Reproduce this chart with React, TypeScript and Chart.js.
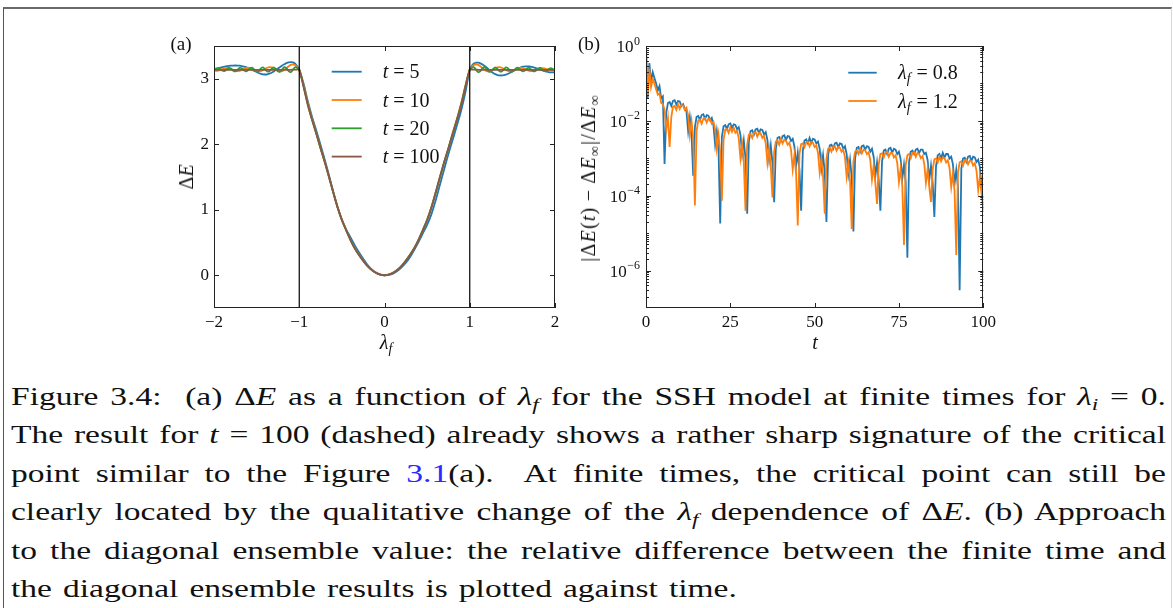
import React, { useEffect, useRef } from 'react';
import { Chart, registerables } from 'chart.js';
Chart.register(...registerables);

const SERIF = '"Liberation Serif", "Times New Roman", serif';

// ---------- Panel (a): Delta E vs lambda_f ----------
const lambdaGrid = [
  -2, -1.975, -1.95, -1.925, -1.9, -1.875, -1.85, -1.825, -1.8, -1.775, -1.75, -1.725, -1.7, -1.675, -1.65, -1.625, -1.6, -1.575, -1.55, -1.525,
  -1.5, -1.475, -1.45, -1.425, -1.4, -1.375, -1.35, -1.325, -1.3, -1.275, -1.25, -1.225, -1.2, -1.175, -1.15, -1.125, -1.1, -1.075, -1.05, -1.025,
  -1, -0.95, -0.9, -0.85, -0.8, -0.75, -0.7, -0.65, -0.6, -0.55, -0.5, -0.45, -0.4, -0.35, -0.3, -0.25, -0.2, -0.15, -0.1, -0.05,
  0, 0.05, 0.1, 0.15, 0.2, 0.25, 0.3, 0.35, 0.4, 0.45, 0.5, 0.55, 0.6, 0.65, 0.7, 0.75, 0.8, 0.85, 0.9, 0.95, 1,
  1.025, 1.05, 1.075, 1.1, 1.125, 1.15, 1.175, 1.2, 1.225, 1.25, 1.275, 1.3, 1.325, 1.35, 1.375, 1.4, 1.425, 1.45, 1.475, 1.5,
  1.525, 1.55, 1.575, 1.6, 1.625, 1.65, 1.675, 1.7, 1.725, 1.75, 1.775, 1.8, 1.825, 1.85, 1.875, 1.9, 1.925, 1.95, 1.975, 2,
];

const dE_t5 = [
  3.150, 3.155, 3.162, 3.170, 3.178, 3.185, 3.191, 3.196, 3.199, 3.201, 3.202, 3.201, 3.199, 3.194, 3.186, 3.176, 3.164, 3.150, 3.135, 3.119,
  3.103, 3.088, 3.076, 3.068, 3.065, 3.068, 3.077, 3.091, 3.110, 3.132, 3.156, 3.180, 3.203, 3.222, 3.238, 3.249, 3.254, 3.250, 3.232, 3.195,
  3.14, 2.93, 2.66, 2.42, 2.21, 1.99, 1.76, 1.52, 1.27, 1.04, 0.85, 0.70, 0.58, 0.46, 0.35, 0.25, 0.16, 0.09, 0.04, 0.01,
  0.0, 0.005, 0.025, 0.065, 0.12, 0.19, 0.28, 0.39, 0.51, 0.64, 0.77, 0.93, 1.14, 1.38, 1.62, 1.85, 2.07, 2.29, 2.52, 2.80, 3.14,
  3.200, 3.232, 3.246, 3.245, 3.235, 3.217, 3.194, 3.167, 3.139, 3.112, 3.089, 3.070, 3.057, 3.051, 3.050, 3.054, 3.063, 3.076, 3.092, 3.110,
  3.128, 3.146, 3.162, 3.175, 3.184, 3.189, 3.190, 3.188, 3.182, 3.173, 3.162, 3.150, 3.138, 3.126, 3.116, 3.108, 3.102, 3.098, 3.096, 3.096,
];

const dE_t10 = [
  3.124, 3.121, 3.125, 3.136, 3.149, 3.160, 3.163, 3.158, 3.146, 3.132, 3.120, 3.117, 3.122, 3.135, 3.150, 3.164, 3.168, 3.162, 3.148, 3.130,
  3.116, 3.112, 3.118, 3.133, 3.152, 3.168, 3.176, 3.172, 3.158, 3.138, 3.120, 3.112, 3.117, 3.135, 3.162, 3.190, 3.212, 3.220, 3.210, 3.185,
  3.14, 2.9, 2.63, 2.39, 2.17, 1.94, 1.72, 1.49, 1.26, 1.04, 0.85, 0.69, 0.545, 0.42, 0.315, 0.225, 0.145, 0.085, 0.04, 0.012,
  0, 0.012, 0.04, 0.085, 0.145, 0.225, 0.315, 0.42, 0.545, 0.69, 0.85, 1.04, 1.26, 1.49, 1.72, 1.94, 2.17, 2.39, 2.63, 2.9, 3.14,
  3.185, 3.210, 3.220, 3.212, 3.190, 3.162, 3.135, 3.117, 3.112, 3.120, 3.138, 3.158, 3.172, 3.176, 3.168, 3.152, 3.133, 3.118, 3.112, 3.116,
  3.130, 3.148, 3.162, 3.168, 3.164, 3.150, 3.135, 3.122, 3.117, 3.120, 3.132, 3.146, 3.158, 3.163, 3.160, 3.149, 3.136, 3.125, 3.121, 3.124,
];

const dE_t20 = [
  3.124, 3.149, 3.163, 3.148, 3.122, 3.119, 3.143, 3.165, 3.155, 3.124, 3.113, 3.137, 3.165, 3.161, 3.130, 3.112, 3.130, 3.162, 3.167, 3.136,
  3.110, 3.122, 3.158, 3.172, 3.144, 3.110, 3.115, 3.152, 3.175, 3.152, 3.113, 3.108, 3.145, 3.177, 3.161, 3.118, 3.101, 3.135, 3.175, 3.170,
  3.14, 2.89, 2.615, 2.38, 2.165, 1.94, 1.725, 1.495, 1.26, 1.035, 0.845, 0.69, 0.542, 0.415, 0.312, 0.222, 0.142, 0.082, 0.037, 0.011,
  0, 0.011, 0.037, 0.082, 0.142, 0.222, 0.312, 0.415, 0.542, 0.69, 0.845, 1.035, 1.26, 1.495, 1.725, 1.94, 2.165, 2.38, 2.615, 2.89, 3.14,
  3.170, 3.175, 3.135, 3.101, 3.118, 3.161, 3.177, 3.145, 3.108, 3.113, 3.152, 3.175, 3.152, 3.115, 3.110, 3.144, 3.172, 3.158, 3.122, 3.110,
  3.136, 3.167, 3.162, 3.130, 3.112, 3.130, 3.161, 3.165, 3.137, 3.113, 3.124, 3.155, 3.165, 3.143, 3.119, 3.122, 3.148, 3.163, 3.149, 3.124,
];

const dE_t100 = [
  3.136, 3.135, 3.134, 3.135, 3.136, 3.135, 3.134, 3.135, 3.136, 3.135, 3.134, 3.135, 3.136, 3.135, 3.134, 3.135, 3.136, 3.135, 3.134, 3.135,
  3.136, 3.135, 3.134, 3.135, 3.136, 3.135, 3.134, 3.136, 3.137, 3.136, 3.135, 3.134, 3.136, 3.138, 3.137, 3.136, 3.137, 3.139, 3.140, 3.141,
  3.14, 2.88, 2.6, 2.37, 2.16, 1.94, 1.73, 1.5, 1.26, 1.03, 0.84, 0.69, 0.54, 0.41, 0.31, 0.22, 0.14, 0.08, 0.035, 0.01,
  0, 0.01, 0.035, 0.08, 0.14, 0.22, 0.31, 0.41, 0.54, 0.69, 0.84, 1.03, 1.26, 1.5, 1.73, 1.94, 2.16, 2.37, 2.6, 2.88, 3.14,
  3.141, 3.140, 3.139, 3.137, 3.136, 3.137, 3.138, 3.136, 3.134, 3.135, 3.136, 3.137, 3.136, 3.135, 3.134, 3.135, 3.136, 3.135, 3.134, 3.135,
  3.136, 3.135, 3.134, 3.135, 3.136, 3.135, 3.134, 3.135, 3.136, 3.135, 3.134, 3.135, 3.136, 3.135, 3.134, 3.135, 3.136, 3.135, 3.134, 3.135,
];

const seriesA = [dE_t5, dE_t10, dE_t20, dE_t100];
const timesA = ['5', '10', '20', '100'];
const colorsA = ['#1f77b4', '#ff7f0e', '#2ca02c', '#8c564b'];
const criticalLines = [-1, 1];
const xTicksA = [-2, -1, 0, 1, 2];
const yTicksA = [0, 1, 2, 3];

// ---------- Panel (b): relative difference vs t ----------
const tGrid = [
  0, 0.5, 1, 1.5, 2, 2.5, 3, 3.5, 4, 4.5, 5, 5.5, 6, 6.5, 7, 7.5, 8, 8.5, 9, 9.5,
  10, 10.5, 11, 11.5, 12, 12.5, 13, 13.5, 14, 14.5, 15, 15.5, 16, 16.5, 17, 17.5, 18, 18.5, 19, 19.5,
  20, 20.5, 21, 21.5, 22, 22.5, 23, 23.5, 24, 24.5, 25, 25.5, 26, 26.5, 27, 27.5, 28, 28.5, 29, 29.5,
  30, 30.5, 31, 31.5, 32, 32.5, 33, 33.5, 34, 34.5, 35, 35.5, 36, 36.5, 37, 37.5, 38, 38.5, 39, 39.5,
  40, 40.5, 41, 41.5, 42, 42.5, 43, 43.5, 44, 44.5, 45, 45.5, 46, 46.5, 47, 47.5, 48, 48.5, 49, 49.5,
  50, 50.5, 51, 51.5, 52, 52.5, 53, 53.5, 54, 54.5, 55, 55.5, 56, 56.5, 57, 57.5, 58, 58.5, 59, 59.5,
  60, 60.5, 61, 61.5, 62, 62.5, 63, 63.5, 64, 64.5, 65, 65.5, 66, 66.5, 67, 67.5, 68, 68.5, 69, 69.5,
  70, 70.5, 71, 71.5, 72, 72.5, 73, 73.5, 74, 74.5, 75, 75.5, 76, 76.5, 77, 77.5, 78, 78.5, 79, 79.5,
  80, 80.5, 81, 81.5, 82, 82.5, 83, 83.5, 84, 84.5, 85, 85.5, 86, 86.5, 87, 87.5, 88, 88.5, 89, 89.5,
  90, 90.5, 91, 91.5, 92, 92.5, 93, 93.5, 94, 94.5, 95, 95.5, 96, 96.5, 97, 97.5, 98, 98.5, 99, 99.5,
  100,
];

const relDiff_08 = [
  0.9, 0.04, 0.35, 0.11, 0.2, 0.14, 0.1, 0.065, 0.085, 0.04, 0.045, 7e-4,
  0.016, 0.030, 0.032, 0.025, 0.034, 0.0355, 0.027, 0.034, 0.033, 0.025, 0.028, 0.021, 0.018, 5.3e-3, 0.0124, 4.3e-3, 3.4e-4,
  6.8e-3, 0.0128, 0.0135, 0.0105, 0.0143, 0.015, 0.0113, 0.0143, 0.0138, 0.0105, 0.012, 7.5e-3, 2.3e-3, 5.3e-3, 1.8e-3, 1.8e-5,
  3.8e-3, 7.2e-3, 7.7e-3, 6e-3, 8.1e-3, 8.5e-3, 6.4e-3, 8.1e-3, 7.8e-3, 6e-3, 6.8e-3, 4.3e-3, 1.3e-3, 3e-3, 1e-3, 3.3e-5,
  2.8e-3, 5.3e-3, 5.6e-3, 4.3e-3, 5.9e-3, 6.2e-3, 4.7e-3, 5.9e-3, 5.7e-3, 4.3e-3, 5e-3, 3.1e-3, 9.3e-4, 2.2e-3, 7.4e-4, 6.7e-5,
  1.8e-3, 3.5e-3, 3.7e-3, 2.9e-3, 3.9e-3, 4.1e-3, 3.1e-3, 3.9e-3, 3.8e-3, 2.9e-3, 3.3e-3, 2.1e-3, 6.2e-4, 1.4e-3, 4.9e-4, 4e-5,
  1.6e-3, 3e-3, 3.2e-3, 2.5e-3, 3.5e-3, 2.6e-3, 3.3e-3, 3.2e-3, 2.5e-3, 2.8e-3, 1.8e-3, 5.3e-4, 1.2e-3, 4.2e-4, 2e-5,
  1.2e-3, 2.2e-3, 2.3e-3, 1.8e-3, 2.5e-3, 2.6e-3, 2e-3, 2.5e-3, 2.4e-3, 1.8e-3, 2.1e-3, 1.3e-3, 3.9e-4, 9.1e-4, 3.1e-4, 1.1e-5,
  9.9e-4, 1.9e-3, 2e-3, 1.5e-3, 2.1e-3, 2.2e-3, 1.7e-3, 2.1e-3, 2e-3, 1.5e-3, 1.8e-3, 1.1e-3, 3.3e-4, 7.7e-4, 2.6e-4, 4e-5,
  8.6e-4, 1.6e-3, 1.7e-3, 1.3e-3, 1.8e-3, 1.9e-3, 1.4e-3, 1.8e-3, 1.7e-3, 1.3e-3, 1.5e-3, 9.5e-4, 2.9e-4, 6.7e-4, 2.3e-4, 2.2e-6,
  8.1e-4, 1.5e-3, 1.6e-3, 1.3e-3, 1.7e-3, 1.8e-3, 1.4e-3, 1.7e-3, 1.7e-3, 1.3e-3, 1.4e-3, 9e-4, 2.7e-4, 6.3e-4, 2.2e-4, 2.7e-5,
  6.3e-4, 1.2e-3, 1.3e-3, 9.8e-4, 1.4e-3, 1.05e-3, 1.3e-3, 1.3e-3, 9.8e-4, 1.1e-3, 7e-4, 2.1e-4, 4.9e-4, 1.7e-4, 3e-7,
  5.2e-4, 9.8e-4, 1.03e-3, 8e-4, 1.1e-3, 1.15e-3, 8.6e-4, 1.1e-3, 1.06e-3, 8e-4, 9.2e-4, 5.8e-4, 1.7e-4, 4e-5,
];

const relDiff_12 = [
  0.7, 0.05, 0.25, 0.08, 0.13, 0.1, 0.07, 0.05, 0.055, 0.03, 0.028, 0.02, 0.006, 0.012, 2e-3,
  0.0126, 0.024, 0.025, 0.0196, 0.028, 0.021, 0.0266, 0.0258, 0.0196, 0.0224, 0.014, 4.2e-3, 9.8e-3, 3.4e-3, 5.5e-5,
  5.4e-3, 0.0102, 0.0108, 8.4e-3, 0.0114, 0.012, 9e-3, 0.0114, 0.011, 8.4e-3, 9.6e-3, 6e-3, 1.8e-3, 4.2e-3, 1.4e-3, 7.4e-5,
  3.1e-3, 5.8e-3, 6.1e-3, 4.8e-3, 6.8e-3, 5.1e-3, 6.5e-3, 4.8e-3, 5.4e-3, 3.4e-3, 1e-3, 2.4e-3, 8.2e-4, 4e-5,
  2.3e-3, 4.3e-3, 4.5e-3, 3.5e-3, 4.8e-3, 5e-3, 3.8e-3, 4.8e-3, 4.6e-3, 3.5e-3, 4e-3, 2.5e-3, 7.5e-4, 1.8e-3, 6e-4, 9e-5,
  1.5e-3, 2.8e-3, 3e-3, 2.3e-3, 3.3e-3, 2.5e-3, 3.1e-3, 3e-3, 2.3e-3, 2.6e-3, 1.7e-3, 5e-4, 1.2e-3, 4e-4, 1.6e-5,
  1.3e-3, 2.4e-3, 2.5e-3, 2e-3, 2.7e-3, 2.8e-3, 2.1e-3, 2.7e-3, 2.6e-3, 2e-3, 2.2e-3, 1.4e-3, 4.2e-4, 9.8e-4, 3.4e-4, 3.3e-5,
  9.5e-4, 1.8e-3, 1.9e-3, 1.5e-3, 2e-3, 2.1e-3, 1.6e-3, 2e-3, 1.9e-3, 1.5e-3, 1.7e-3, 1.05e-3, 3.2e-4, 7.4e-4, 2.5e-4, 1.3e-5,
  8.1e-4, 1.5e-3, 1.6e-3, 1.3e-3, 1.8e-3, 1.35e-3, 1.7e-3, 1.65e-3, 1.3e-3, 1.45e-3, 9e-4, 2.7e-4, 6.3e-4, 2.2e-4, 6e-5,
  6.8e-4, 1.3e-3, 1.35e-3, 1.05e-3, 1.4e-3, 1.5e-3, 1.1e-3, 1.4e-3, 1.4e-3, 1.05e-3, 1.2e-3, 7.5e-4, 2.3e-4, 5.3e-4, 1.8e-4, 4.8e-6,
  6.5e-4, 1.2e-3, 1.3e-3, 1e-3, 1.4e-3, 1.45e-3, 1.1e-3, 1.4e-3, 1.3e-3, 1e-3, 1.15e-3, 7.3e-4, 2.2e-4, 5.1e-4, 1.7e-4, 6.8e-5,
  5e-4, 9.4e-4, 9.9e-4, 7.7e-4, 1.1e-3, 8.3e-4, 1.05e-3, 1e-3, 7.7e-4, 8.8e-4, 5.5e-4, 1.7e-4, 3.9e-4, 1.3e-4, 2.6e-6,
  4.1e-4, 7.8e-4, 8.3e-4, 6.4e-4, 8.7e-4, 9.2e-4, 6.9e-4, 8.7e-4, 8.5e-4, 6.4e-4, 7.4e-4, 4.6e-4, 1.4e-4, 3.2e-4, 1.1e-4, 1e-4,
];

const seriesB = [relDiff_08, relDiff_12];
const lambdaFinal = ['0.8', '1.2'];
const colorsB = ['#1f77b4', '#ff7f0e'];
const xTicksB = [0, 25, 50, 75, 100];
const yTicksB = [1e-6, 1e-4, 1e-2, 1];

// ---------- helpers ----------
const fmtMinus = (v: number) => (v < 0 ? '\u2212' + Math.abs(v) : String(v));

function logMinorTicks(minExp: number, maxExp: number, majors: number[]) {
  const out: number[] = [];
  for (let e = minExp; e < maxExp; e++) {
    for (let s = 1; s <= 9; s++) {
      const v = s * Math.pow(10, e);
      if (s === 1 && majors.some((m) => Math.abs(Math.log10(m) - e) < 1e-9)) continue;
      out.push(v);
    }
  }
  return out;
}

type Part = { t: string; s: 'i' | 'r' | 'sub' };

const decoPlugin = {
  id: 'deco',
  afterDatasetsDraw(chart: any, _a: any, o: any) {
    const { ctx, chartArea: ca, scales } = chart;
    if (o.vLines) {
      ctx.save();
      ctx.strokeStyle = '#000';
      ctx.lineWidth = 1.2;
      ctx.beginPath();
      for (const v of o.vLines) {
        const px = scales.x.getPixelForValue(v);
        ctx.moveTo(px, ca.top);
        ctx.lineTo(px, ca.bottom);
      }
      ctx.stroke();
      ctx.restore();
    }
  },
  afterDraw(chart: any, _a: any, o: any) {
    const { ctx, chartArea: ca, scales } = chart;
    const xs = scales.x;
    const ys = scales.y;
    ctx.save();
    ctx.strokeStyle = '#222';
    ctx.lineWidth = 1;
    const M = 5;
    const m = 3;
    ctx.beginPath();
    for (const v of o.xTicks) {
      const p = Math.round(xs.getPixelForValue(v)) + 0.5;
      ctx.moveTo(p, ca.bottom);
      ctx.lineTo(p, ca.bottom - M);
      ctx.moveTo(p, ca.top);
      ctx.lineTo(p, ca.top + M);
    }
    for (const v of o.yTicks) {
      const p = Math.round(ys.getPixelForValue(v)) + 0.5;
      ctx.moveTo(ca.left, p);
      ctx.lineTo(ca.left + M, p);
      ctx.moveTo(ca.right, p);
      ctx.lineTo(ca.right - M, p);
    }
    for (const v of o.yMinor || []) {
      const p = Math.round(ys.getPixelForValue(v)) + 0.5;
      if (p < ca.top || p > ca.bottom) continue;
      ctx.moveTo(ca.left, p);
      ctx.lineTo(ca.left + m, p);
      ctx.moveTo(ca.right, p);
      ctx.lineTo(ca.right - m, p);
    }
    ctx.stroke();
    ctx.strokeStyle = '#222';
    ctx.lineWidth = 1;
    ctx.strokeRect(
      Math.round(ca.left) + 0.5,
      Math.round(ca.top) + 0.5,
      Math.round(ca.right - ca.left) - 1,
      Math.round(ca.bottom - ca.top) - 1
    );

    ctx.fillStyle = '#111';
    ctx.textBaseline = 'alphabetic';
    ctx.textAlign = 'left';
    if (o.logLabels) {
      for (const v of o.yTicks) {
        const p = ys.getPixelForValue(v);
        const e = Math.round(Math.log10(v));
        const es = e < 0 ? '\u2212' + -e : String(e);
        ctx.font = `12px ${SERIF}`;
        const ew = ctx.measureText(es).width;
        ctx.font = `17px ${SERIF}`;
        const bw = ctx.measureText('10').width;
        const xr = ca.left - 6;
        ctx.fillText('10', xr - ew - bw - 0.5, p + 6);
        ctx.font = `12px ${SERIF}`;
        ctx.fillText(es, xr - ew, p - 1.5);
      }
    }

    // legend
    const lg = o.legend;
    if (lg) {
      chart.data.datasets.forEach((ds: any, i: number) => {
        const y = ca.top + lg.y0 + i * lg.dy;
        ctx.strokeStyle = ds.borderColor;
        ctx.lineWidth = 1.8;
        ctx.beginPath();
        ctx.moveTo(ca.left + lg.x0, y);
        ctx.lineTo(ca.left + lg.x0 + lg.len, y);
        ctx.stroke();
        let x = ca.left + lg.tx;
        const parts: Part[] = lg.parts(i);
        for (const pt of parts) {
          let dy = 6.5;
          if (pt.s === 'i') ctx.font = `italic 20px ${SERIF}`;
          else if (pt.s === 'sub') {
            ctx.font = `italic 14px ${SERIF}`;
            dy = 10.5;
          } else ctx.font = `20px ${SERIF}`;
          ctx.fillStyle = '#111';
          ctx.fillText(pt.t, x, y + dy);
          x += ctx.measureText(pt.t).width + (pt.s === 'sub' ? 1 : 0);
        }
      });
    }
    ctx.restore();
  },
};

const tickFont = { family: SERIF, size: 17 };

function makeConfigA(): any {
  return {
    type: 'line',
    data: {
      datasets: seriesA.map((arr, i) => ({
        label: 't = ' + timesA[i],
        data: lambdaGrid.map((x, j) => ({ x, y: arr[j] })),
        borderColor: colorsA[i],
        backgroundColor: colorsA[i],
        borderWidth: 1.8,
        pointRadius: 0,
        tension: 0.3,
        fill: false,
        order: 4 - i,
      })),
    },
    options: {
      responsive: false,
      animation: false,
      devicePixelRatio: 1,
      layout: { padding: { left: 0, right: 15, top: 16, bottom: 0 } },
      plugins: {
        legend: { display: false },
        tooltip: { enabled: false },
        deco: {
          xTicks: xTicksA,
          yTicks: yTicksA,
          vLines: criticalLines,
          legend: {
            x0: 117.7,
            len: 30,
            tx: 168.7,
            y0: 25.7,
            dy: 28.3,
            parts: (i: number): Part[] => [
              { t: 't', s: 'i' },
              { t: ' = ' + timesA[i], s: 'r' },
            ],
          },
        },
      },
      scales: {
        x: {
          type: 'linear',
          min: -2,
          max: 2,
          afterBuildTicks: (s: any) => {
            s.ticks = xTicksA.map((v) => ({ value: v }));
          },
          afterFit: (s: any) => {
            s.height = 52;
          },
          grid: { display: false, drawTicks: false },
          border: { display: false },
          ticks: { font: tickFont, color: '#111', padding: 4, maxRotation: 0, autoSkip: false, callback: (v: any) => fmtMinus(Number(v)) },
        },
        y: {
          type: 'linear',
          min: -0.5,
          max: 3.5,
          afterBuildTicks: (s: any) => {
            s.ticks = yTicksA.map((v) => ({ value: v }));
          },
          afterFit: (s: any) => {
            s.width = 64;
          },
          grid: { display: false, drawTicks: false },
          border: { display: false },
          ticks: { font: tickFont, color: '#111', padding: 5, autoSkip: false, callback: (v: any) => fmtMinus(Number(v)) },
        },
      },
    },
    plugins: [decoPlugin],
  };
}

function makeConfigB(): any {
  return {
    type: 'line',
    data: {
      datasets: seriesB.map((arr, i) => ({
        label: 'lambda_f = ' + lambdaFinal[i],
        data: tGrid.map((x, j) => ({ x, y: arr[j] })),
        borderColor: colorsB[i],
        backgroundColor: colorsB[i],
        borderWidth: 1.8,
        pointRadius: 0,
        tension: 0,
        fill: false,
        order: 2 - i,
      })),
    },
    options: {
      responsive: false,
      animation: false,
      devicePixelRatio: 1,
      layout: { padding: { left: 0, right: 14, top: 16, bottom: 0 } },
      plugins: {
        legend: { display: false },
        tooltip: { enabled: false },
        deco: {
          xTicks: xTicksB,
          yTicks: yTicksB,
          yMinor: logMinorTicks(-7, 0, yTicksB),
          logLabels: true,
          legend: {
            x0: 202.3,
            len: 28.4,
            tx: 252,
            y0: 26.7,
            dy: 28.3,
            parts: (i: number): Part[] => [
              { t: '\u03bb', s: 'i' },
              { t: 'f', s: 'sub' },
              { t: ' = ' + lambdaFinal[i], s: 'r' },
            ],
          },
        },
      },
      scales: {
        x: {
          type: 'linear',
          min: 0,
          max: 100,
          afterBuildTicks: (s: any) => {
            s.ticks = xTicksB.map((v) => ({ value: v }));
          },
          afterFit: (s: any) => {
            s.height = 52;
          },
          grid: { display: false, drawTicks: false },
          border: { display: false },
          ticks: { font: tickFont, color: '#111', padding: 4, maxRotation: 0, autoSkip: false, callback: (v: any) => String(v) },
        },
        y: {
          type: 'logarithmic',
          min: 1e-7,
          max: 1,
          afterBuildTicks: (s: any) => {
            s.ticks = yTicksB.map((v) => ({ value: v }));
          },
          afterFit: (s: any) => {
            s.width = 76;
          },
          grid: { display: false, drawTicks: false },
          border: { display: false },
          ticks: { display: false },
        },
      },
    },
    plugins: [decoPlugin],
  };
}

const Sub = ({ children, size = '0.7em', top = '0.3em' }: any) => (
  <span style={{ fontSize: size, fontStyle: 'italic', position: 'relative', top }}>{children}</span>
);

const centered = (left: number, top: number, extra: any = {}): any => ({
  position: 'absolute',
  left,
  top,
  transform: 'translate(-50%, -50%)',
  whiteSpace: 'nowrap',
  lineHeight: 1,
  ...extra,
});

const CAPTION_SCALE = 1.34;

const captionLine = (last = false): any => ({
  height: 38.4,
  lineHeight: '38.4px',
  textAlign: last ? 'left' : 'justify',
  textAlignLast: last ? 'left' : 'justify',
  wordSpacing: last ? '2px' : undefined,
});

export default function App() {
  const refA = useRef<HTMLCanvasElement>(null);
  const refB = useRef<HTMLCanvasElement>(null);

  useEffect(() => {
    const a = new Chart(refA.current as HTMLCanvasElement, makeConfigA());
    const b = new Chart(refB.current as HTMLCanvasElement, makeConfigB());
    return () => {
      a.destroy();
      b.destroy();
    };
  }, []);

  return (
    <div
      style={{
        position: 'absolute',
        left: 0,
        top: 0,
        width: 1173,
        height: 608,
        background: '#fff',
        overflow: 'hidden',
        fontFamily: SERIF,
        color: '#111',
      }}
    >
      <div
        style={{
          position: 'absolute',
          left: 3,
          top: 7,
          width: 1167,
          height: 640,
          borderTop: '2px solid #6a6a6a',
          borderLeft: '1.5px solid #555',
          borderRight: '1px solid #d8d8d8',
        }}
      />
      <canvas ref={refA} width={420} height={330} style={{ position: 'absolute', left: 150, top: 30, width: 420, height: 330 }} />
      <canvas ref={refB} width={430} height={330} style={{ position: 'absolute', left: 570, top: 30, width: 430, height: 330 }} />

      <div style={centered(181, 43, { fontSize: 19 })}>(a)</div>
      <div style={centered(589, 43, { fontSize: 19 })}>(b)</div>

      <div style={centered(186, 177, { fontSize: 20, transform: 'translate(-50%, -50%) rotate(-90deg)' })}>
        Δ<i>E</i>
      </div>
      <div style={centered(386, 342, { fontSize: 20 })}>
        <i>λ</i>
        <Sub>f</Sub>
      </div>
      <div
        style={centered(588, 178, {
          fontSize: 20,
          letterSpacing: '1.2px',
          transform: 'translate(-50%, -50%) rotate(-90deg)',
        })}
      >
        |Δ<i>E</i>(<i>t</i>)&thinsp;−&thinsp;Δ<i>E</i>
        <Sub>∞</Sub>|/Δ<i>E</i>
        <Sub>∞</Sub>
      </div>
      <div style={centered(815, 342, { fontSize: 20, fontStyle: 'italic' })}>t</div>

      <div
        style={{
          position: 'absolute',
          left: 11,
          top: 378,
          width: 1155 / CAPTION_SCALE,
          fontSize: 25,
          fontFamily: SERIF,
          color: '#111',
          transform: `scaleX(${CAPTION_SCALE})`,
          transformOrigin: '0 0',
        }}
      >
        <div style={captionLine()}>
          Figure 3.4:&nbsp; (a) Δ<i>E</i> as a function of <i>λ</i>
          <Sub>f</Sub> for the SSH model at finite times for <i>λ</i>
          <Sub>i</Sub> = 0.
        </div>
        <div style={captionLine()}>
          The result for <i>t</i> = 100 (dashed) already shows a rather sharp signature of the critical
        </div>
        <div style={captionLine()}>
          point similar to the Figure <span style={{ color: '#2b2bff' }}>3.1</span>(a).&nbsp; At finite times, the critical point can still be
        </div>
        <div style={captionLine()}>
          clearly located by the qualitative change of the <i>λ</i>
          <Sub>f</Sub> dependence of Δ<i>E</i>. (b) Approach
        </div>
        <div style={captionLine()}>
          to the diagonal ensemble value: the relative difference between the finite time and
        </div>
        <div style={captionLine(true)}>the diagonal ensemble results is plotted against time.</div>
      </div>
    </div>
  );
}
